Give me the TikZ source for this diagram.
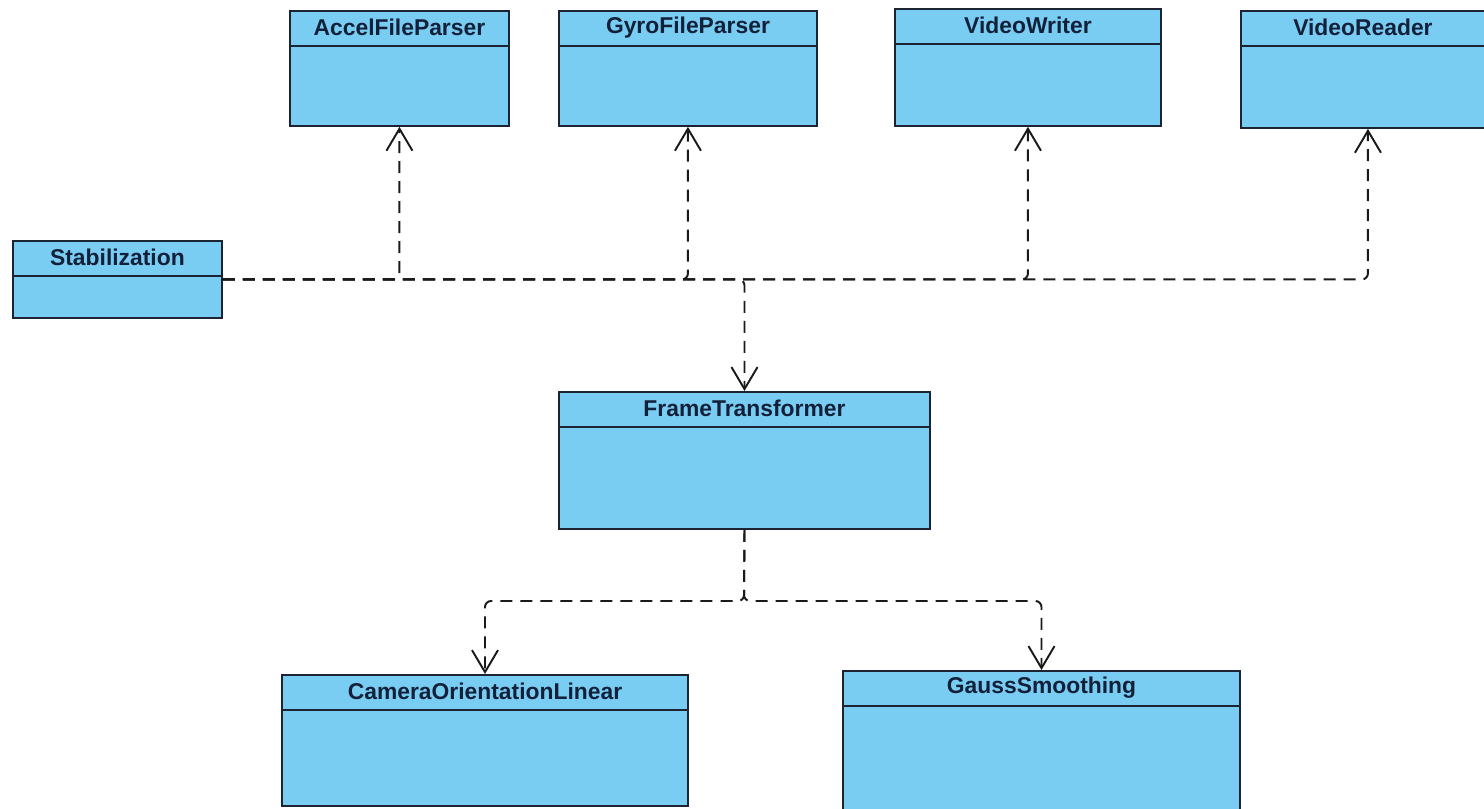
\documentclass[tikz,border=0pt]{standalone}
\usepackage{fontspec}
\setmainfont{Liberation Sans}
\usepackage{tikz}
\usetikzlibrary{positioning, arrows.meta}
\definecolor{classfill}{HTML}{7ACDF2}
\definecolor{classline}{HTML}{1C2333}
\definecolor{classtext}{HTML}{13203A}
\definecolor{deparrow}{HTML}{1A1A1A}

\begin{document}
\begin{tikzpicture}[
  x=0.01cm, y=-0.01cm,
  classbox/.style={draw=classline, fill=classfill, line width=0.5pt,
                   inner sep=0pt, anchor=north west},
  classname/.style={minimum height=0.33cm, inner sep=0pt, text=classtext,
                    font=\fontsize{6.5}{7.5}\selectfont\bfseries},
  dep/.style={draw=deparrow, line width=0.55pt, dash pattern=on 1.2mm off 0.8mm,
              rounded corners=0.06cm, -{Straight Barb[length=2.2mm, width=2.6mm]}},
]
  \useasboundingbox (0,0) rectangle (1484,808);

  % Top row
  \node[classbox, minimum width=2.19cm, minimum height=1.15cm] (accel) at (289,10) {};
  \node[classname, below=0pt of accel.north] (accel-t) {AccelFileParser};
  \node[classbox, minimum width=2.58cm, minimum height=1.15cm] (gyro) at (558,10) {};
  \node[classname, below=0pt of gyro.north] (gyro-t) {GyroFileParser};
  \node[classbox, minimum width=2.66cm, minimum height=1.17cm] (vwriter) at (894,8) {};
  \node[classname, below=0pt of vwriter.north] (vwriter-t) {VideoWriter};
  \node[classbox, minimum width=2.44cm, minimum height=1.17cm] (vreader) at (1240,10) {};
  \node[classname, below=0pt of vreader.north] (vreader-t) {VideoReader};

  % Middle
  \node[classbox, minimum width=2.09cm, minimum height=0.77cm] (stab) at (12,240) {};
  \node[classname, below=0pt of stab.north] (stab-t) {Stabilization};
  \node[classbox, minimum width=3.71cm, minimum height=1.37cm] (frame) at (558,391) {};
  \node[classname, below=0pt of frame.north] (frame-t) {FrameTransformer};

  % Bottom row
  \node[classbox, minimum width=4.06cm, minimum height=1.31cm] (camera) at (281,674) {};
  \node[classname, below=0pt of camera.north] (camera-t) {CameraOrientationLinear};
  \node[classbox, minimum width=3.97cm, minimum height=1.50cm] (gauss) at (842,670) {};
  \node[classname, below=0pt of gauss.north] (gauss-t) {GaussSmoothing};

  % Header dividers
  \foreach \c in {accel, gyro, vwriter, vreader, stab, frame, camera, gauss}
    \draw[classline, line width=0.6pt] ([yshift=-0.015cm]\c-t.south -| \c.west)
      -- ([yshift=-0.015cm]\c-t.south -| \c.east);

  % Dependencies of Stabilization
  \draw[dep] (stab.east) -| (accel.south);
  \draw[dep] (stab.east) -| (gyro.south);
  \draw[dep] (stab.east) -| (vwriter.south);
  \draw[dep] (stab.east) -| ([xshift=0.05cm]vreader.south);
  \draw[dep] (stab.east) -| (frame.north);

  % Dependencies of FrameTransformer
  \coordinate (split) at (744,601);
  \draw[dep] (frame.south) -- (split) -| (camera.north);
  \draw[dep] (frame.south) -- (split) -| (gauss.north);
\end{tikzpicture}
\end{document}
